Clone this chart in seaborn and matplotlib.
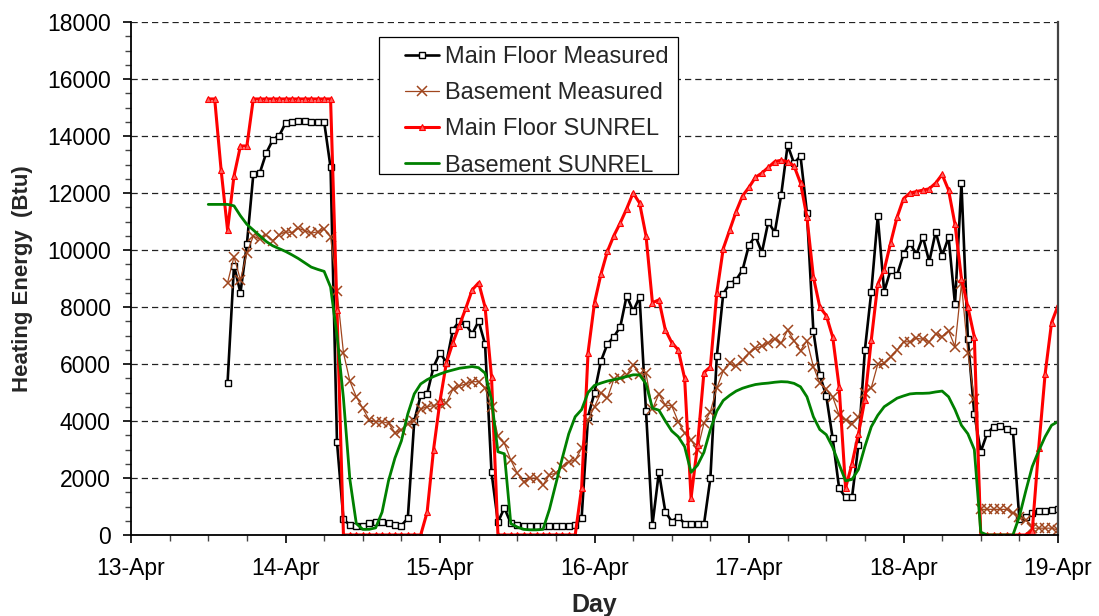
import matplotlib
matplotlib.use("Agg")
import matplotlib.pyplot as plt
import matplotlib.dates as mdates
from matplotlib.ticker import MultipleLocator
from matplotlib.patches import Rectangle
import numpy as np
import pandas as pd
import seaborn as sns

# ---------------- data (hourly values, Btu) ----------------
start_date = "2007-04-13"

main_measured_start_hour = 15
main_measured = [
    5350, 9450, 8500, 10200, 12650, 12700, 13400, 13850, 14000,            # h15-23
    14450, 14500, 14530, 14530, 14490, 14490, 14500, 12900, 3250, 550,     # h24-33
    350, 330, 330, 410, 470, 470, 430, 350, 330, 590,                      # h34-43
    4000, 4900, 4950, 5900, 6400, 6050, 7200, 7500, 7400, 7050,            # h44-53
    7500, 6700, 2200, 450, 950, 410, 350, 330, 330, 320,                   # h54-63
    330, 330, 320, 330, 330, 350, 600, 4150, 5000, 6100,                   # h64-73
    6700, 6950, 7300, 8400, 7850, 8350, 4350, 350, 2200, 820,              # h74-83
    470, 640, 400, 370, 370, 370, 1990, 6270, 8470, 8820,                  # h84-93
    8950, 9300, 10180, 10490, 9910, 10990, 10610, 11930, 13680, 13040,     # h94-103
    13300, 11310, 7160, 5610, 4880, 3390, 1640, 1320, 1320, 3160,          # h104-113
    6490, 8540, 11180, 8540, 9300, 9120, 9850, 10260, 9830, 10470,         # h114-123
    9590, 10640, 9790, 10450, 8100, 12340, 6870, 4250, 2920, 3570,         # h124-133
    3800, 3840, 3710, 3660, 550, 620, 760, 850, 850, 880, 910,             # h134-144
]

base_measured_start_hour = 15
base_measured = [
    8850, 9770, 8950, 9890, 10490, 10380, 10530, 10330, 10530,             # h15-23
    10640, 10610, 10760, 10680, 10590, 10640, 10730, 10470, 8570, 6400,    # h24-33
    5400, 4850, 4450, 4040, 3980, 3980, 3920, 3590, 3680, 3900,            # h34-43
    4010, 4420, 4500, 4540, 4600, 4640, 5110, 5230, 5300, 5380,            # h44-53
    5380, 5150, 4500, 3470, 3220, 2630, 2170, 1870, 1990, 2000,            # h54-63
    1750, 2110, 2170, 2400, 2570, 2630, 3040, 4040, 4500, 4990,            # h64-73
    4800, 5460, 5500, 5610, 5970, 5650, 5670, 4410, 4950, 4560,            # h74-83
    4530, 3980, 3570, 3330, 2980, 3920, 4330, 5150, 5760, 6020,            # h84-93
    5930, 6140, 6380, 6550, 6630, 6750, 6870, 6730, 7190, 6820,            # h94-103
    6470, 6820, 5910, 5320, 5110, 4850, 4210, 4040, 3900, 4130,            # h104-113
    4970, 5170, 5990, 6020, 6260, 6490, 6780, 6780, 6900, 6870,            # h114-123
    6780, 7050, 6960, 7170, 6610, 8810, 6400, 4760, 900, 900,              # h124-133
    900, 900, 900, 780, 640, 530, 240, 240, 240, 240, 175,                 # h134-144
]

main_sunrel_start_hour = 12
main_sunrel = [
    15300, 15300, 12800, 10700, 12600, 13650, 13650, 15300,                # h12-19
    15300, 15300, 15300, 15300, 15300, 15300, 15300, 15300, 15300, 15300,  # h20-29
    15300, 15300, 7900, 0, 0, 0, 0, 0, 0, 0,                               # h30-39
    0, 0, 0, 0, 0, 0, 800, 3000, 4700, 6050,                               # h40-49
    6750, 7350, 7950, 8600, 8850, 8000, 5550, 0, 0, 0,                     # h50-59
    0, 0, 0, 0, 0, 0, 0, 0, 0, 0,                                          # h60-69
    1650, 6400, 8150, 9150, 9950, 10500, 10950, 11450, 12000, 11650,       # h70-79
    10500, 8150, 8250, 7200, 6750, 6500, 5500, 1300, 3150, 5700,           # h80-89
    5900, 8500, 10050, 10700, 11350, 11900, 12200, 12550, 12700, 12900,    # h90-99
    13100, 13150, 13100, 12950, 12350, 11150, 9050, 8000, 7700, 6950,      # h100-109
    5200, 1650, 2500, 3550, 4750, 6850, 8800, 9300, 10250, 11150,          # h110-119
    11800, 12000, 12050, 12100, 12150, 12350, 12650, 12100, 10900, 9000,   # h120-129
    8000, 6950, 0, 0, 0, 0, 0, 0, 0, 0,                                    # h130-139
    150, 3050, 5650, 7450, 8050,                                           # h140-144
]

base_sunrel_start_hour = 12
base_sunrel = [
    11600, 11600, 11600, 11600, 11550, 11200, 10900, 10700,                # h12-19
    10500, 10300, 10150, 10050, 9950, 9830, 9700, 9550, 9400, 9320,        # h20-29
    9250, 8700, 7000, 4800, 1950, 400, 200, 200, 250, 800,                 # h30-39
    1900, 2700, 3300, 4250, 4950, 5300, 5450, 5560, 5650, 5730,            # h40-49
    5790, 5850, 5880, 5910, 5870, 5680, 4750, 2920, 2850, 400,             # h50-59
    280, 200, 180, 180, 200, 900, 1800, 2700, 3550, 4150,                  # h60-69
    4400, 5000, 5250, 5330, 5400, 5450, 5500, 5560, 5620, 5620,            # h70-79
    5300, 4450, 4380, 4000, 3650, 3450, 3100, 2200, 2450, 2900,            # h80-89
    3700, 4350, 4720, 4900, 5050, 5150, 5220, 5280, 5310, 5330,            # h90-99
    5360, 5380, 5370, 5320, 5200, 4850, 4150, 3700, 3520, 3080,            # h100-109
    2480, 1900, 1950, 2300, 3100, 3800, 4200, 4500, 4650, 4800,            # h110-119
    4880, 4950, 4970, 4970, 4980, 5020, 5050, 4850, 4400, 3850,            # h120-129
    3550, 3000, 100, 0, 0, 0, 0, 0, 650, 1550,                             # h130-139
    2400, 2950, 3450, 3850, 3980,                                          # h140-144
]

series_names = ["Main Floor Measured", "Basement Measured",
                "Main Floor SUNREL", "Basement SUNREL"]
tick_day_labels_fmt = "%d-%b"
x_label = "Day"
y_label = "Heating Energy  (Btu)"


def make_frame(values, start_hour, name):
    t0 = pd.Timestamp(start_date) + pd.Timedelta(hours=start_hour)
    times = pd.date_range(t0, periods=len(values), freq="h")
    return pd.DataFrame({"time": times, "energy": values, "series": name})


frames = [
    make_frame(main_measured, main_measured_start_hour, series_names[0]),
    make_frame(base_measured, base_measured_start_hour, series_names[1]),
    make_frame(main_sunrel, main_sunrel_start_hour, series_names[2]),
    make_frame(base_sunrel, base_sunrel_start_hour, series_names[3]),
]

# ---------------- style ----------------
sns.set_style("white")
plt.rcParams["font.family"] = ["Liberation Sans", "DejaVu Sans"]

W, H = 1099, 616
fig = plt.figure(figsize=(W / 100, H / 100), dpi=100)
ax = fig.add_axes([131 / W, 1 - 535 / H, (1058 - 131) / W, (535 - 22) / H])

styles = [
    dict(color="black", linewidth=1.9, marker="s", markersize=5.0,
         markerfacecolor="white", markeredgecolor="black", markeredgewidth=1.0),
    dict(color="#a0461e", linewidth=0.9, marker="x", markersize=6.5,
         markeredgecolor="#a0461e", markeredgewidth=1.1),
    dict(color="#ff0000", linewidth=2.2, marker="^", markersize=4.5,
         markerfacecolor="#ff6060", markeredgecolor="#ff0000", markeredgewidth=0.8),
    dict(color="#008000", linewidth=2.0),
]

for df, name, st in zip(frames, series_names, styles):
    sns.lineplot(data=df, x="time", y="energy", ax=ax, label=name,
                 estimator=None, sort=False, **st)

# ---------------- axes ----------------
ax.set_xlim(pd.Timestamp(start_date), pd.Timestamp(start_date) + pd.Timedelta(days=6))
ax.set_ylim(0, 18000)
ax.xaxis.set_major_locator(mdates.DayLocator())
ax.xaxis.set_minor_locator(mdates.HourLocator(byhour=[0, 6, 12, 18]))
ax.xaxis.set_major_formatter(mdates.DateFormatter(tick_day_labels_fmt))
ax.yaxis.set_major_locator(MultipleLocator(2000))
ax.yaxis.set_minor_locator(MultipleLocator(500))

ax.tick_params(axis="both", which="major", direction="out", length=6, width=1.2,
               color="black", labelsize=16.5, labelcolor="black")
ax.tick_params(axis="both", which="minor", direction="out", length=4, width=1.0,
               color="#444444")
ax.tick_params(axis="x", which="major", pad=10)
ax.tick_params(axis="y", which="major", pad=8.5)
ax.tick_params(left=True, bottom=True, which="both")

ax.yaxis.grid(True, which="major", linestyle=(0, (5, 3.2)), color="#222222",
              linewidth=0.9)
ax.xaxis.grid(False)
ax.set_axisbelow(True)

for side in ["left", "bottom"]:
    ax.spines[side].set_color("black")
    ax.spines[side].set_linewidth(1.3)
ax.spines["top"].set_visible(False)
ax.spines["right"].set_color("#444444")
ax.spines["right"].set_linewidth(1.6)

ax.set_xlabel(x_label, fontsize=18, fontweight="bold", labelpad=9)
ax.set_ylabel(y_label, fontsize=16, fontweight="bold", labelpad=10)

# legend: frameless legend plus a separate frame rectangle
leg = ax.legend(loc="upper left", bbox_to_anchor=(405 / W, 1 - 46 / H),
                bbox_transform=fig.transFigure, fontsize=17, frameon=False,
                borderaxespad=0, handlelength=1.45, handletextpad=0.25,
                labelspacing=0.6, borderpad=0.0)
frame = Rectangle((379 / W, 1 - 174 / H), (678 - 379) / W, (174 - 37) / H,
                  transform=fig.transFigure, facecolor="white",
                  edgecolor="black", linewidth=0.9, zorder=4)
fig.patches.append(frame)
leg.remove()
fig.add_artist(leg)
leg.set_zorder(10)

fig.savefig("out.png", dpi=100)
